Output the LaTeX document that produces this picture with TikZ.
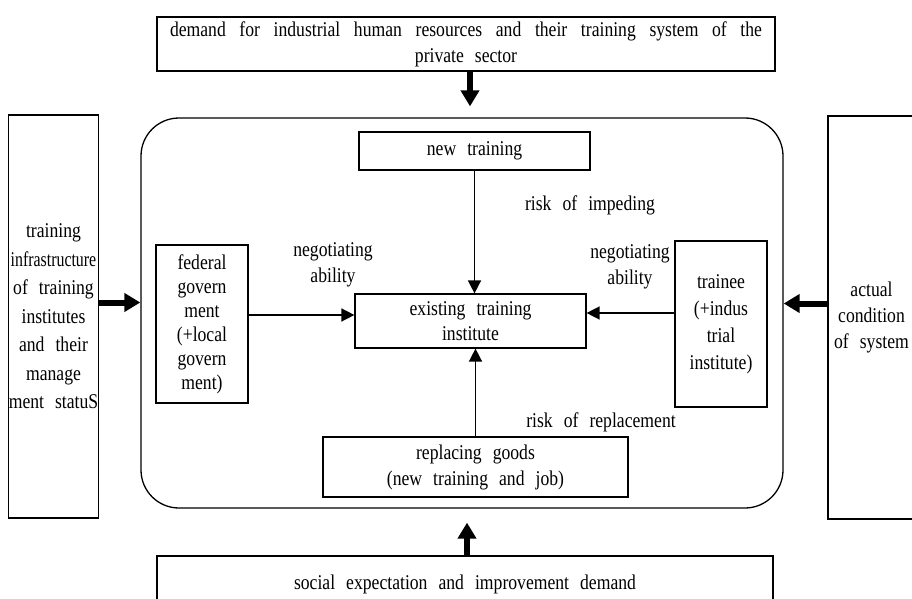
\documentclass[tikz,border=0pt]{standalone}
\usepackage{fontspec}
\setmainfont{Liberation Serif}[FakeStretch=0.84,WordSpace=2.5]
\usepackage{graphicx}
\usetikzlibrary{arrows.meta}

\begin{document}
\begin{tikzpicture}[x=1pt,y=-1pt,
    font=\fontsize{21}{26}\selectfont,
    box/.style={draw,line width=1.2pt,align=center,inner sep=0pt},
    link/.style={line width=1.5pt,-{Triangle[length=13pt,width=13pt]}},
    push/.style={line width=6pt,-{Triangle[length=16pt,width=18pt]}}]
  \useasboundingbox (0,0) rectangle (912,599);
  \clip (0,0) rectangle (912,599);
  \node[box,minimum width=618pt,minimum height=54pt] (demand) at (466,44)
    {\makebox[592pt][s]{demand for industrial human resources and their training system of the}\\private sector};
  \node[box,minimum width=616pt,minimum height=56pt] (social) at (465,584)
    {social expectation and improvement demand};
  \node[box,minimum width=87pt,minimum height=403pt,font=\fontsize{21}{28.5}\selectfont] (infra) at (53.5,316.5)
    {training\\\scalebox{0.9}[1]{infrastructure}\\of training\\institutes\\and their\\manage\\ment statuS};
  \node[box,minimum width=87pt,minimum height=403pt] (actual) at (871.5,317.5)
    {actual\\condition\\of system};
  \node[draw,line width=1.3pt,rounded corners=38pt,minimum width=642pt,minimum height=390pt] (frame) at (462,313) {};
  \node[box,minimum width=231pt,minimum height=38pt] (newtr) at (474.5,151) {new training};
  \node[box,minimum width=231pt,minimum height=54pt,font=\fontsize{21}{25}\selectfont] (exist) at (470.5,321)
    {existing training\\institute};
  \node[box,minimum width=92pt,minimum height=158pt,font=\fontsize{21}{24}\selectfont] (fed) at (202,324)
    {federal\\govern\\ment\\(+local\\govern\\ment)};
  \node[box,minimum width=92pt,minimum height=166pt,font=\fontsize{21}{27}\selectfont] (trainee) at (721,324)
    {trainee\\(+indus\\trial\\institute)};
  \node[box,minimum width=305pt,minimum height=60pt] (repl) at (475.5,467)
    {replacing goods\\(new training and job)};
  \node (impede) at (590,205) {risk of impeding};
  \node[align=center] (negl) at (333,265) {negotiating\\ability};
  \node[align=center] (negr) at (630,267) {negotiating\\ability};
  \node (replrisk) at (601,422) {risk of replacement};
  \draw[link] (newtr) -- (newtr |- exist.north);
  \draw[link] (repl) -- (repl |- exist.south);
  \draw[link] ([yshift=6pt]exist.west -| fed.east) -- ([yshift=6pt]exist.west);
  \draw[link] ([yshift=8pt]exist.east -| trainee.west) -- ([yshift=8pt]exist.east);
  \draw[push] ([xshift=4pt]demand.south) -- ([xshift=4pt,yshift=11pt]demand.south |- frame.north);
  \draw[push] ([xshift=2pt]social.north) -- ([xshift=2pt,yshift=-14pt]social.north |- frame.south);
  \draw[push] ([yshift=14pt]infra.east) -- ([yshift=14pt]infra.east -| frame.west);
  \draw[push] ([yshift=14pt]actual.west) -- ([yshift=14pt]actual.west -| frame.east);
\end{tikzpicture}
\end{document}
